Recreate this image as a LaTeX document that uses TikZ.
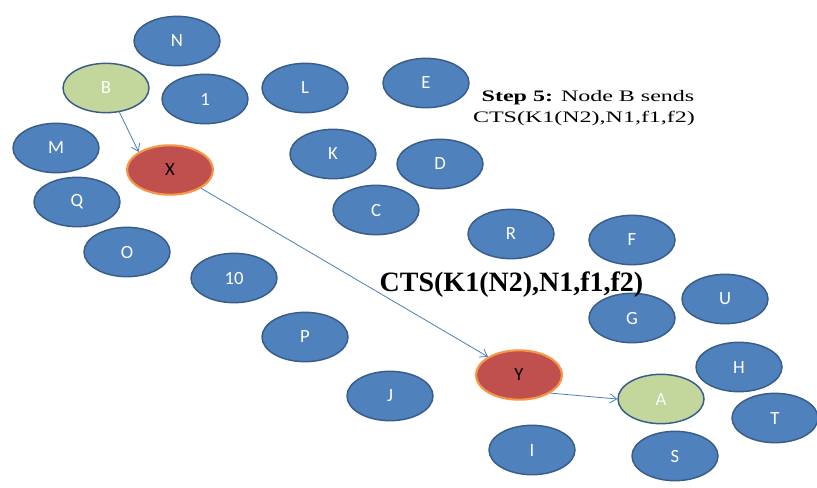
\documentclass[tikz,border=0pt]{standalone}
\usepackage{fontspec}
\setmainfont{Liberation Serif}
\newfontfamily\labelfont{Carlito}
\usepackage{tikz}
\usetikzlibrary{shapes.geometric,arrows.meta}

\definecolor{nodeblue}{HTML}{4F81BD}
\definecolor{rimblue}{HTML}{385D8A}
\definecolor{nodegreen}{HTML}{C3D69B}
\definecolor{nodered}{HTML}{C0504D}
\definecolor{rimorange}{HTML}{F79646}
\definecolor{arrowblue}{HTML}{4A7EBB}

\tikzset{
  station/.style={ellipse,draw=rimblue,line width=1.1pt,fill=nodeblue,text=white,
    minimum width=64.5pt,minimum height=37pt,inner sep=0pt,
    font=\labelfont\fontsize{14}{16}\selectfont},
  endpoint/.style={station,fill=nodegreen},
  relay/.style={station,fill=nodered,draw=rimorange,line width=1.6pt,text=black},
  hop/.style={color=arrowblue,line width=0.6pt,-{Straight Barb[length=5pt,width=7pt]}}
}

\begin{document}
\begin{tikzpicture}[x=0.75pt,y=-0.75pt]
  \useasboundingbox (0,0) rectangle (817,487);

  % bystanders
  \node[station] (n)   at (177,41)  {N};
  \node[station] (one) at (205,99)  {1};
  \node[station] (l)   at (305,88)  {L};
  \node[station] (e)   at (426,83)  {E};
  \node[station] (m)   at (56,148)  {M};
  \node[station] (k)   at (333,154) {K};
  \node[station] (d)   at (440,164) {D};
  \node[station] (q)   at (77,202)  {Q};
  \node[station] (c)   at (376,210) {C};
  \node[station] (r)   at (511,234) {R};
  \node[station] (f)   at (632,240) {F};
  \node[station] (o)   at (127,252) {O};
  \node[station] (ten) at (234,278) {10};
  \node[station] (u)   at (725,299) {U};
  \node[station] (g)   at (632,318) {G};
  \node[station] (p)   at (305,337) {P};
  \node[station] (h)   at (739,367) {H};
  \node[station] (j)   at (390,396) {J};
  \node[station] (t)   at (775,418) {T};
  \node[station] (i)   at (532,450) {I};
  \node[station] (s)   at (675,456) {S};

  % route
  \node[endpoint] (b) at (106,88)  {B};
  \node[relay]    (x) at (170,170) {X};
  \node[relay]    (y) at (519,375) {Y};
  \node[endpoint] (a) at (661,399) {A};

  \path[hop]
    (b.-61) edge (x.150)
    (x) edge (y)
    (y.-30) edge (a.west);

  \node[anchor=base,font=\fontsize{21}{24}\selectfont\bfseries] (cts) at (511.5,291)
    {CTS(K1(N2),N1,f1,f2)};

  \node[anchor=base,font=\fontsize{12}{16}\selectfont] (stepa) at (588,101)
    {\scalebox{1.5}[1]{\textbf{Step 5:} Node B sends}};
  \node[anchor=base,font=\fontsize{12}{16}\selectfont] (stepb) at (584,122)
    {\scalebox{1.5}[1]{CTS(K1(N2),N1,f1,f2)}};
\end{tikzpicture}
\end{document}
